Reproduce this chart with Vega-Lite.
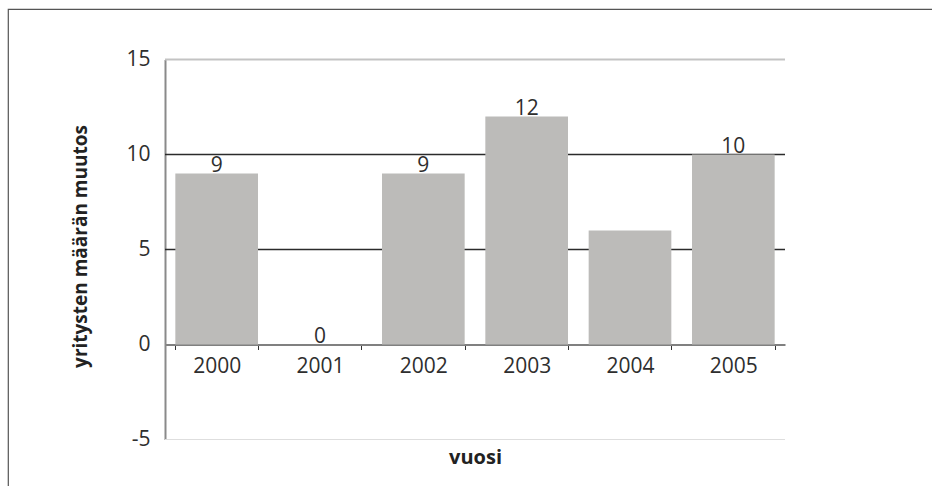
{
  "$schema": "https://vega.github.io/schema/vega-lite/v6.json",
  "autosize": "none",
  "width": 944,
  "height": 497,
  "padding": {"left": 8, "top": 9, "right": -20, "bottom": -20},
  "background": "white",
  "config": {
    "view": {"stroke": "#555555", "strokeWidth": 1.2},
    "font": "Open Sans"
  },
  "datasets": {
    "changes": [
      {"vuosi": "2000", "muutos": 9},
      {"vuosi": "2001", "muutos": 0},
      {"vuosi": "2002", "muutos": 9},
      {"vuosi": "2003", "muutos": 12},
      {"vuosi": "2004", "muutos": 6},
      {"vuosi": "2005", "muutos": 10}
    ],
    "gridlines": [
      {"v": 15},
      {"v": 10},
      {"v": 5},
      {"v": -5}
    ]
  },
  "resolve": {"scale": {"x": "independent"}, "axis": {"x": "independent"}},
  "layer": [
    {
      "data": {"name": "gridlines"},
      "mark": {"type": "rule"},
      "encoding": {
        "x": {"datum": 0, "type": "quantitative", "scale": {"domain": [0, 1], "range": [157, 777]}, "axis": null},
        "x2": {"datum": 1},
        "y": {"field": "v", "type": "quantitative", "scale": {"domain": [-5, 15], "range": [430.5, 50.5], "nice": false, "zero": false}},
        "color": {"field": "v", "type": "ordinal", "scale": {"domain": [15, 10, 5, -5], "range": ["#c3c3c3", "#2b2b2b", "#2b2b2b", "#dedede"]}, "legend": null},
        "strokeWidth": {"field": "v", "type": "ordinal", "scale": {"domain": [15, 10, 5, -5], "range": [2, 1, 1, 2]}, "legend": null}
      }
    },
    {
      "data": {"name": "changes"},
      "encoding": {
        "x": {
          "field": "vuosi",
          "type": "nominal",
          "sort": null,
          "scale": {"range": [157, 777], "paddingInner": 0.2, "paddingOuter": 0.1},
          "axis": {
            "title": "vuosi",
            "offset": -161.5,
            "labelAngle": 0,
            "labelFontSize": 21,
            "labelColor": "#2e2e2e",
            "labelBaseline": "alphabetic",
            "labelPadding": 23,
            "tickBand": "extent",
            "tickSize": 5,
            "tickColor": "#333333",
            "tickWidth": 1,
            "domainColor": "#808080",
            "domainWidth": 2,
            "grid": false,
            "titleFontSize": 20,
            "titleFontWeight": "bold",
            "titleColor": "#222222",
            "titleBaseline": "alphabetic",
            "titleY": 119
          }
        },
        "y": {
          "field": "muutos",
          "type": "quantitative",
          "scale": {"domain": [-5, 15], "range": [430.5, 50.5], "nice": false, "zero": false},
          "axis": {
            "title": "yritysten määrän muutos",
            "offset": -157,
            "values": [-5, 0, 5, 10, 15],
            "labelExpr": "toString(datum.value)",
            "grid": false,
            "ticks": false,
            "tickSize": 0,
            "labelFontSize": 21,
            "labelColor": "#2e2e2e",
            "labelPadding": 15,
            "domainColor": "#8a8a8a",
            "domainWidth": 2,
            "titleFontSize": 19,
            "titleFontWeight": "bold",
            "titleColor": "#222222",
            "titleBaseline": "alphabetic",
            "titleX": -79,
            "titleY": 237
          }
        }
      },
      "layer": [
        {"mark": {"type": "bar", "color": "#bcbbb9"}},
        {
          "transform": [{"filter": "datum.vuosi != '2004'"}],
          "mark": {"type": "text", "baseline": "alphabetic", "dy": -2, "fontSize": 21, "color": "#2e2e2e"},
          "encoding": {"text": {"field": "muutos", "type": "quantitative"}}
        }
      ]
    }
  ]
}
